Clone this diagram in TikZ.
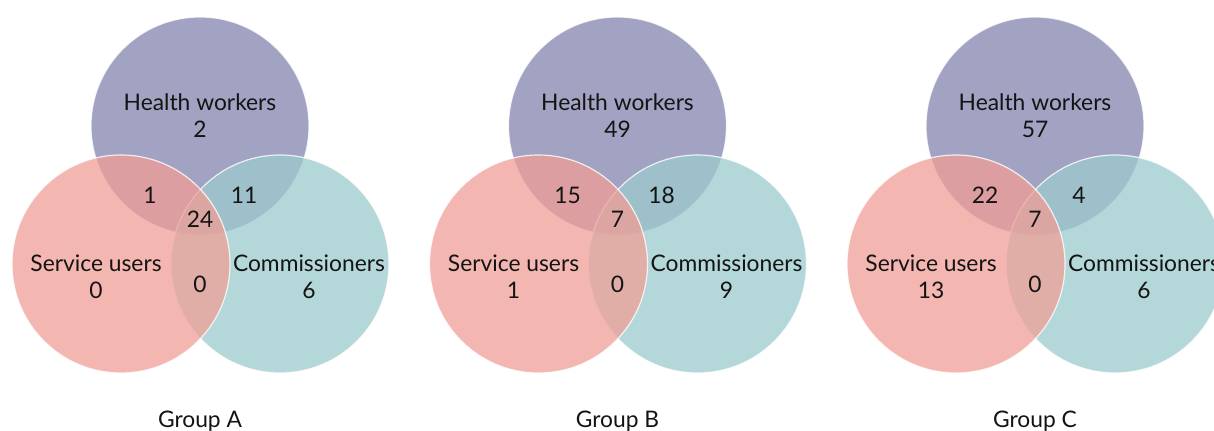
\documentclass[tikz,border=0pt]{standalone}
\usepackage{fontspec}
\setmainfont{Lato}
\usepackage{xcolor}
\usepackage{tikz}

\definecolor{hwcol}{RGB}{131,131,174}
\definecolor{sucol}{RGB}{240,158,150}
\definecolor{cmcol}{RGB}{155,203,206}
\definecolor{txtcol}{RGB}{20,20,20}

\begin{document}
\begin{tikzpicture}[x=0.5pt, y=-0.5pt,
        set/.style={fill opacity=0.75, draw=white, draw opacity=0.8, line width=0.6pt},
        lbl/.style={align=center, inner sep=0pt, text=txtcol,
            font=\fontsize{11.4}{13.5}\selectfont}]
    \useasboundingbox (0,0) rectangle (1214,431);
    \clip (0,0) rectangle (1214,431);

    % Group A
    \begin{scope}
        \draw[set, fill=hwcol] (200,126) circle (109); % health workers
        \draw[set, fill=cmcol] (280,264) circle (109); % commissioners
        \draw[set, fill=sucol] (121,264) circle (109); % service users
        \node[lbl] (hwA) at (200,115.5) {Health workers\\2};
        \node[lbl] (suA) at (96,276.5) {Service users\\0};
        \node[lbl] (cmA) at (309,276.5) {Commissioners\\6};
        \node[lbl] (shA) at (150,195) {1};
        \node[lbl] (hcA) at (244,195) {11};
        \node[lbl] (allA) at (200,219) {24};
        \node[lbl] (scA) at (200,284) {0};
        \node[lbl] (titleA) at (200,421.5) {Group A};
    \end{scope}

    % Group B
    \begin{scope}[shift={(417.5,0)}]
        \draw[set, fill=hwcol] (200,126) circle (109); % health workers
        \draw[set, fill=cmcol] (280,264) circle (109); % commissioners
        \draw[set, fill=sucol] (121,264) circle (109); % service users
        \node[lbl] (hwB) at (200,115.5) {Health workers\\49};
        \node[lbl] (suB) at (96,276.5) {Service users\\1};
        \node[lbl] (cmB) at (309,276.5) {Commissioners\\9};
        \node[lbl] (shB) at (150,195) {15};
        \node[lbl] (hcB) at (244,195) {18};
        \node[lbl] (allB) at (200,219) {7};
        \node[lbl] (scB) at (200,284) {0};
        \node[lbl] (titleB) at (200,421.5) {Group B};
    \end{scope}

    % Group C
    \begin{scope}[shift={(835,0)}]
        \draw[set, fill=hwcol] (200,126) circle (109); % health workers
        \draw[set, fill=cmcol] (280,264) circle (109); % commissioners
        \draw[set, fill=sucol] (121,264) circle (109); % service users
        \node[lbl] (hwC) at (200,115.5) {Health workers\\57};
        \node[lbl] (suC) at (96,276.5) {Service users\\13};
        \node[lbl] (cmC) at (309,276.5) {Commissioners\\6};
        \node[lbl] (shC) at (150,195) {22};
        \node[lbl] (hcC) at (244,195) {4};
        \node[lbl] (allC) at (200,219) {7};
        \node[lbl] (scC) at (200,284) {0};
        \node[lbl] (titleC) at (200,421.5) {Group C};
    \end{scope}
\end{tikzpicture}
\end{document}
